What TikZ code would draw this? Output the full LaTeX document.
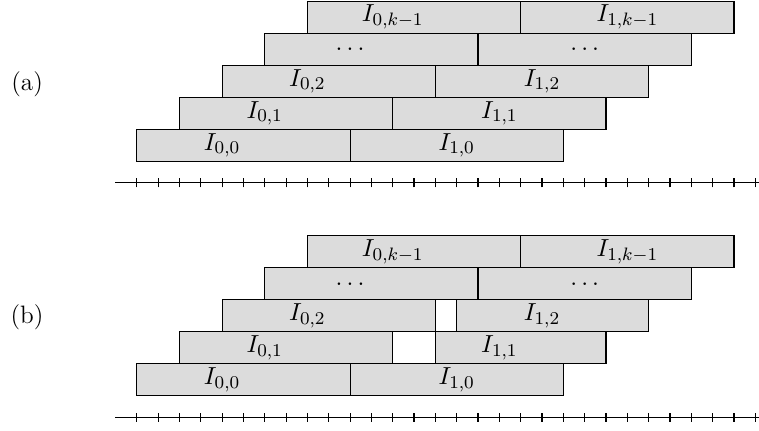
\documentclass[tikz,border=0pt]{standalone}
\definecolor{boxgray}{RGB}{220,220,220}
\tikzset{
  ibox/.style={draw=black, fill=boxgray, line width=0.5pt},
  lbl/.style={inner sep=0pt},
  tick/.style={line width=0.5pt},
  axisline/.style={line width=0.5pt}
}
% #1 base y, #2 row index, #3 left of second box, #4 text0, #5 text1, #6 name prefix
\newcommand\boxrow[6]{%
  \pgfmathsetmacro\yb{#1+1+1.5*#2}%
  \pgfmathsetmacro\xa{2*#2}%
  \draw[ibox] (\xa,\yb) rectangle ++(10,1.5);
  \draw[ibox] (#3,\yb) rectangle (\xa+20,\yb+1.5);
  \node[lbl] (#6a) at (\xa+4,\yb+0.75) {#4};
  \node[lbl] (#6b) at (\xa+15,\yb+0.75) {#5};
}
\newcommand\timeaxis[2]{%
  \coordinate (#2start) at (-1,#1);
  \coordinate (#2end) at (29.5,#1);
  \draw[axisline] (#2start) -- (#2end);
  \foreach \t in {0,...,29} \draw[tick] (\t,#1-0.22) -- (\t,#1+0.22);
}
\begin{document}
\begin{tikzpicture}[x=1cm/3, y=1cm/3, font=\fontsize{11.2}{13.5}\selectfont]
\useasboundingbox (-6.41,-0.6) rectangle (29.17,19.56);
% (a)
\boxrow{11}{0}{10}{$I_{0,0}$}{$I_{1,0}$}{aa0}
\boxrow{11}{1}{12}{$I_{0,1}$}{$I_{1,1}$}{aa1}
\boxrow{11}{2}{14}{$I_{0,2}$}{$I_{1,2}$}{aa2}
\boxrow{11}{3}{16}{$\dots$}{$\dots$}{aa3}
\boxrow{11}{4}{18}{$I_{0,k-1}$}{$I_{1,k-1}$}{aa4}
\timeaxis{11}{axa}
\node (la) at (-5.14,15.6) {(a)};
% (b)
\boxrow{0}{0}{10}{$I_{0,0}$}{$I_{1,0}$}{bb0}
\boxrow{0}{1}{14}{$I_{0,1}$}{$I_{1,1}$}{bb1}
\boxrow{0}{2}{15}{$I_{0,2}$}{$I_{1,2}$}{bb2}
\boxrow{0}{3}{16}{$\dots$}{$\dots$}{bb3}
\boxrow{0}{4}{18}{$I_{0,k-1}$}{$I_{1,k-1}$}{bb4}
\timeaxis{0}{axb}
\node (lb) at (-5.14,4.7) {(b)};
\end{tikzpicture}
\end{document}
